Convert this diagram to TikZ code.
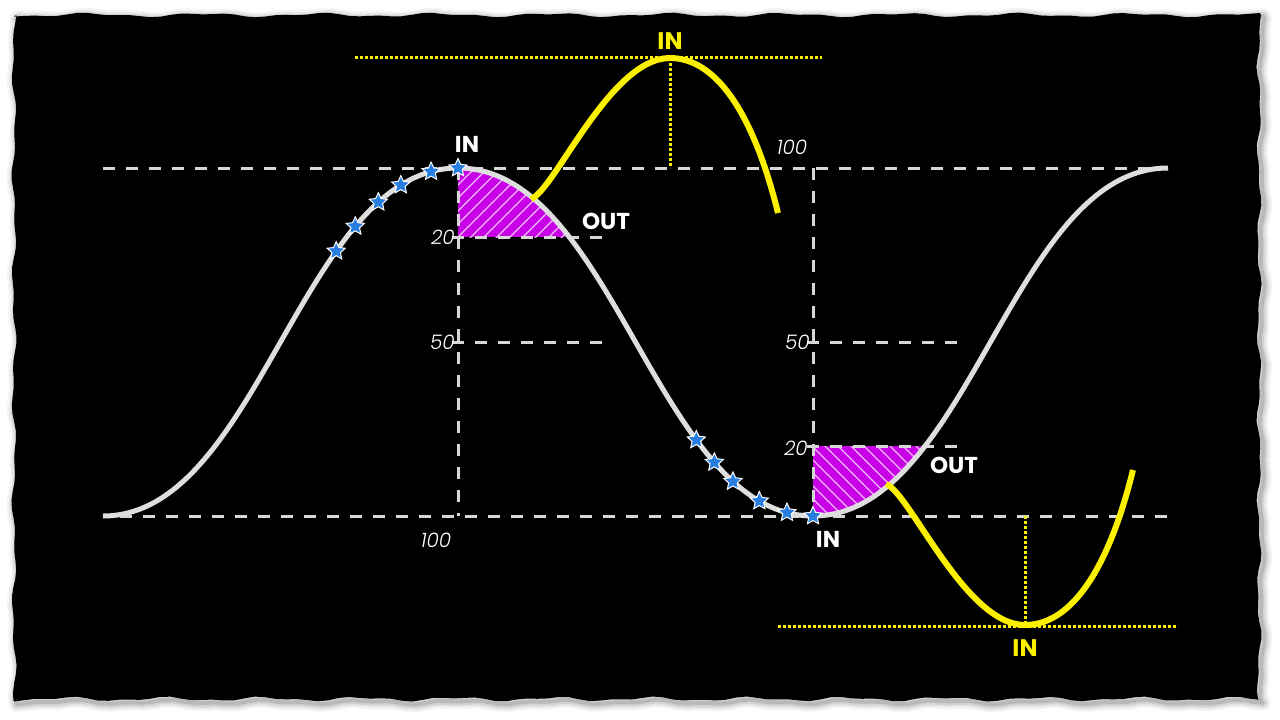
\documentclass[tikz,border=0pt]{standalone}
\usepackage{fontspec}
\setmainfont{Poppins}
\newfontfamily\numfont{Poppins}[UprightFont=* Light, ItalicFont=* Light Italic]
\usetikzlibrary{shapes.geometric}
\definecolor{curvegray}{RGB}{222,222,222}
\definecolor{dashgray}{RGB}{215,215,215}
\definecolor{magfill}{RGB}{200,0,230}
\definecolor{hatchc}{RGB}{240,190,250}
\definecolor{ylw}{RGB}{250,240,0}
\definecolor{starblue}{RGB}{40,125,225}
\def\panelpath{plot[domain=14:1260, samples=120] (\x, {15+1.5*sin(3.1*\x)+0.9*sin(7.3*\x+40)}) -- plot[domain=15:700, samples=80] ({1259+1.6*sin(4.1*\x)+1.0*sin(9.2*\x+10)}, \x) -- plot[domain=1260:14, samples=120] (\x, {699+1.6*sin(3.7*\x+20)+1.0*sin(8.1*\x)}) -- plot[domain=700:15, samples=80] ({14+1.5*sin(3.3*\x+50)+1.1*sin(7.7*\x)}, \x) -- cycle}
\begin{document}
\begin{tikzpicture}[x=1pt,y=-1pt,
 guide/.style={dashgray, line width=3pt, dash pattern=on 12pt off 11pt},
 maincurve/.style={curvegray, line width=5pt},
 ycurve/.style={ylw, line width=6pt, line cap=butt},
 ydot/.style={ylw, line width=3pt, dash pattern=on 3pt off 2pt},
 lbl/.style={white, font=\bfseries\fontsize{23}{23}\selectfont, inner sep=0pt},
 ylbl/.style={ylw, font=\bfseries\fontsize{24}{24}\selectfont, inner sep=0pt},
 num/.style={white, font=\numfont\itshape\fontsize{20}{20}\selectfont, inner sep=0pt},
 hatch/.style={hatchc, line width=1.2pt},
 keyframe/.style={star, star points=5, star point ratio=2.1, minimum size=19pt, inner sep=0pt, fill=starblue, draw=white, line width=1pt}
]
\useasboundingbox (0,0) rectangle (1280,720);
\fill[white] (0,0) rectangle (1280,720);
% shadow
\foreach \w/\o in {16/0.04, 12/0.06, 8/0.08, 4/0.12} {
  \draw[black, line width=\w pt, opacity=\o, line join=round, shift={(3,3)}] \panelpath;
}
\fill[black] \panelpath;

% magenta regions
\begin{scope}
  \clip (458,168) .. controls (614,168) and (657,516) .. (813,516) -- (458,516) -- cycle;
  \clip (458,160) rectangle (620,237);
  \fill[magfill] (458,160) rectangle (620,237);
  \foreach \k in {-12,...,14} {\draw[hatch] (458+\k*13,250) -- ++(100,-100);}
\end{scope}
\begin{scope}
  \clip (813,516) .. controls (969,516) and (1012,168) .. (1168,168) -- (813,168) -- cycle;
  \clip (813,446) rectangle (960,524);
  \fill[magfill] (813,446) rectangle (960,524);
  \foreach \k in {-12,...,14} {\draw[hatch] (780+\k*13,440) -- ++(100,100);}
\end{scope}

% guide lines
\draw[guide] (103,168) -- (1168,168);
\draw[guide] (120,516) -- (1168,516);
\draw[guide] (458,168) -- (458,516);
\draw[guide] (813,168) -- (813,516);
\draw[guide] (452,237) -- (602,237);
\draw[guide] (452,342) -- (602,342);
\draw[guide] (807,342) -- (958,342);
\draw[guide] (807,446) -- (958,446);

% main curve
\draw[maincurve] (103,516) .. controls (259,516) and (302,168) .. (458,168) .. controls (614,168) and (657,516) .. (813,516) .. controls (969,516) and (1012,168) .. (1168,168);

% yellow curves
\draw[ydot] (355,57) -- (822,57);
\draw[ydot] (670,58) -- (670,168);
\draw[ydot] (778,626) -- (1178,626);
\draw[ydot] (1025,516) -- (1025,626);
\draw[ycurve] (531,199) .. controls (555,190) and (610,58) .. (670,58) .. controls (710,58) and (750,100) .. (778,213);
\draw[ycurve] (886,484) .. controls (910,493) and (965,625) .. (1025,625) .. controls (1065,625) and (1105,583) .. (1133,470);

% key frames
\path (103,516) .. controls (259,516) and (302,168) .. (458,168)
  node[keyframe,pos=0.682] (s1) {} node[keyframe,pos=0.74] (s2) {}
  node[keyframe,pos=0.806] (s3) {} node[keyframe,pos=0.866] (s4) {}
  node[keyframe,pos=0.94] (s5) {} node[keyframe,pos=1] (s6) {};
\path (458,168) .. controls (614,168) and (657,516) .. (813,516)
  node[keyframe,pos=0.698] (t1) {} node[keyframe,pos=0.752] (t2) {}
  node[keyframe,pos=0.805] (t3) {} node[keyframe,pos=0.875] (t4) {}
  node[keyframe,pos=0.942] (t5) {} node[keyframe,pos=1] (t6) {};

% labels
\node[lbl] (in1) at (467,144) {IN};
\node[lbl] (out1) at (606,221) {OUT};
\node[lbl] (in2) at (828,539) {IN};
\node[lbl] (out2) at (954,465) {OUT};
\node[ylbl] (yin1) at (670,41) {IN};
\node[ylbl] (yin2) at (1025,648) {IN};
\node[num, anchor=east] (n20a) at (455,237) {20};
\node[num, anchor=east] (n50a) at (455,342) {50};
\node[num] (n100a) at (436,540) {100};
\node[num] (n100b) at (792,147) {100};
\node[num, anchor=east] (n50b) at (810,342) {50};
\node[num, anchor=east] (n20b) at (808,448) {20};
\end{tikzpicture}
\end{document}
